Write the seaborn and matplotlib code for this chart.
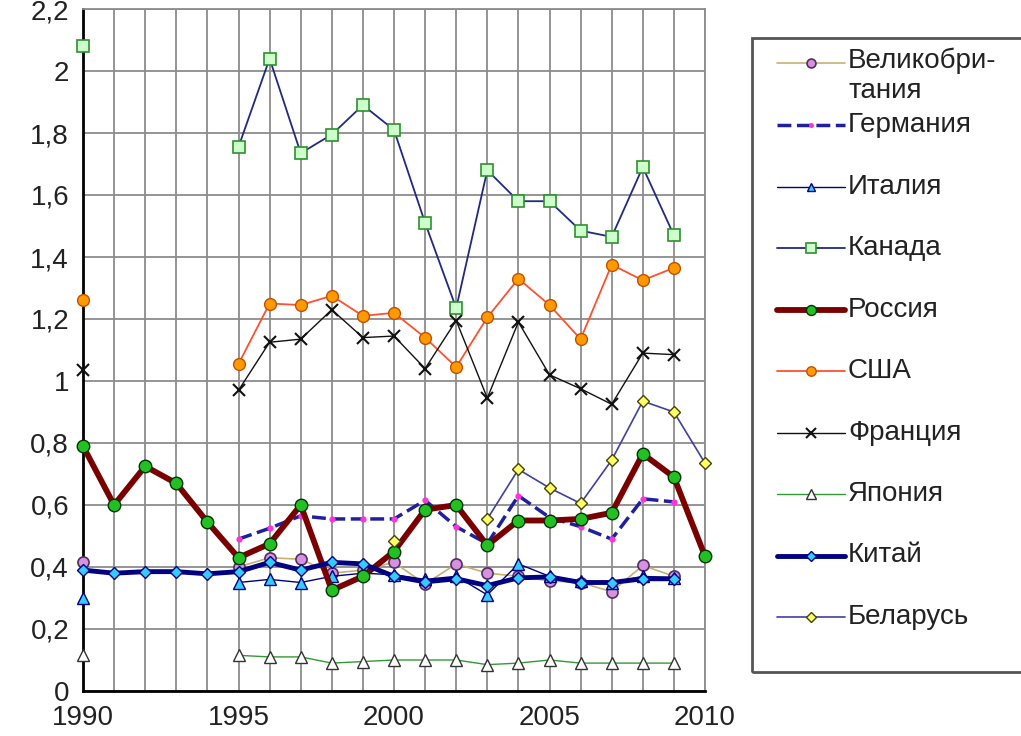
import numpy as np
import pandas as pd
import matplotlib.pyplot as plt
import seaborn as sns
from matplotlib.lines import Line2D
from matplotlib.patches import Rectangle

nan = np.nan
years = list(range(1990, 2011))

# values, nan = no point
uk = [0.415, nan, nan, nan, nan, 0.40, 0.43, 0.425, 0.38, 0.39, 0.415,
      0.345, 0.41, 0.38, 0.37, 0.355, 0.35, 0.32, 0.405, 0.37, nan]
germany = [nan, nan, nan, nan, nan, 0.49, 0.525, 0.565, 0.555, 0.555, 0.555,
           0.615, 0.53, 0.475, 0.63, 0.56, 0.53, 0.49, 0.62, 0.61, nan]
italy = [0.30, nan, nan, nan, nan, 0.35, 0.36, 0.35, 0.37, 0.38, 0.375,
         0.36, 0.37, 0.31, 0.41, 0.37, 0.355, 0.35, 0.37, 0.365, nan]
canada = [2.08, nan, nan, nan, nan, 1.755, 2.04, 1.735, 1.795, 1.89, 1.81,
          1.51, 1.235, 1.68, 1.58, 1.58, 1.485, 1.465, 1.69, 1.47, nan]
russia = [0.79, 0.60, 0.725, 0.67, 0.545, 0.43, 0.475, 0.60, 0.325, 0.37, 0.45,
          0.585, 0.60, 0.47, 0.55, 0.55, 0.555, 0.575, 0.765, 0.69, 0.435]
usa = [1.26, nan, nan, nan, nan, 1.055, 1.25, 1.245, 1.275, 1.21, 1.22,
       1.14, 1.045, 1.205, 1.33, 1.245, 1.135, 1.375, 1.325, 1.365, nan]
france = [1.035, nan, nan, nan, nan, 0.97, 1.125, 1.135, 1.23, 1.14, 1.145,
          1.04, 1.195, 0.945, 1.19, 1.02, 0.975, 0.925, 1.09, 1.085, nan]
japan = [0.115, nan, nan, nan, nan, 0.115, 0.11, 0.11, 0.09, 0.095, 0.10,
         0.10, 0.10, 0.085, 0.09, 0.10, 0.09, 0.09, 0.09, 0.09, nan]
china = [0.39, 0.38, 0.385, 0.385, 0.378, 0.385, 0.415, 0.39, 0.415, 0.41, 0.37,
         0.352, 0.362, 0.34, 0.365, 0.368, 0.35, 0.35, 0.362, 0.362, nan]
belarus = [nan, nan, nan, nan, nan, nan, nan, nan, nan, nan, 0.485,
           nan, nan, 0.555, 0.715, 0.655, 0.605, 0.745, 0.935, 0.90, 0.735]

countries = ['Великобри-\nтания', 'Германия', 'Италия', 'Канада', 'Россия',
             'США', 'Франция', 'Япония', 'Китай', 'Беларусь']
series = [uk, germany, italy, canada, russia, usa, france, japan, china, belarus]

styles = [
    dict(color='#c8b070', lw=1.2, ls='-', marker='o', ms=8, mfc='#d890e0', mec='#503060', mew=1.2),
    dict(color='#1f1fa0', lw=2.5, ls=(0, (4, 1.6)), marker='o', ms=4.5, mfc='#ff33dd', mec='#ff33dd', mew=0),
    dict(color='#000080', lw=1.0, ls='-', marker='^', ms=8, mfc='#33ccff', mec='#000080', mew=1.0),
    dict(color='#1f2a80', lw=1.3, ls='-', marker='s', ms=9, mfc='#ccffcc', mec='#2f8f2f', mew=1.2),
    dict(color='#7a0000', lw=4.2, ls='-', marker='o', ms=9, mfc='#22c022', mec='#003300', mew=1.0),
    dict(color='#ff5030', lw=1.3, ls='-', marker='o', ms=8.5, mfc='#ff9900', mec='#c05000', mew=1.0),
    dict(color='#111111', lw=1.0, ls='-', marker='x', ms=9, mfc='none', mec='#111111', mew=1.5),
    dict(color='#339933', lw=1.0, ls='-', marker='^', ms=8.5, mfc='white', mec='#333333', mew=1.0),
    dict(color='#000080', lw=3.5, ls='-', marker='D', ms=6.5, mfc='#33ccff', mec='#000080', mew=1.0),
    dict(color='#4040a0', lw=1.2, ls='-', marker='D', ms=6.5, mfc='#ffff66', mec='#444400', mew=1.0),
]

sns.set_style('white')
plt.rcParams['font.family'] = ['Liberation Sans', 'DejaVu Sans']

W, H = 1021, 736
fig = plt.figure(figsize=(W / 100, H / 100), dpi=100)
ax = fig.add_axes([83 / W, 45 / H, 622 / W, 682 / H])

for i, (vals, st) in enumerate(zip(series, styles)):
    df = pd.DataFrame({'year': years, 'val': vals})
    df['seg'] = df['val'].isna().cumsum()   # break the line at gaps
    df = df.dropna()
    sns.lineplot(data=df, x='year', y='val', units='seg', estimator=None, ax=ax,
                 color=st['color'], linewidth=st['lw'], linestyle=st['ls'],
                 marker=st['marker'], markersize=st['ms'],
                 markerfacecolor=st['mfc'], markeredgecolor=st['mec'],
                 markeredgewidth=st['mew'], zorder=3 + i, clip_on=False,
                 legend=False)

ax.set_xlim(1990, 2010)
ax.set_ylim(0, 2.2)
ax.set_xticks(years)
ax.set_xticklabels([str(y) if y % 5 == 0 else '' for y in years])
yt = np.arange(0, 2.21, 0.2)
ax.set_yticks(yt)
ax.set_yticklabels([('%.1f' % v).rstrip('0').rstrip('.').replace('.', ',') for v in yt])
ax.set_xlabel('')
ax.set_ylabel('')
ax.set_axisbelow(True)
ax.grid(True, color='#8c8c8c', lw=1.3)
ax.tick_params(axis='both', direction='out', length=7, width=1.5, color='black',
               labelsize=20, labelcolor='#222222', pad=3)
for s in ['left', 'bottom']:
    ax.spines[s].set_color('black')
    ax.spines[s].set_linewidth(2)
for s in ['top', 'right']:
    ax.spines[s].set_color('#8c8c8c')
    ax.spines[s].set_linewidth(1.3)

# legend box drawn by hand to keep Excel-like row spacing
fig.add_artist(Rectangle((752 / W, 1 - 672 / H), 300 / W, 634 / H, transform=fig.transFigure,
                         fill=False, ec='#555555', lw=2))
leg_y = [63] + [125 + 61.5 * k for k in range(9)]
for name, st, yy in zip(countries, styles, leg_y):
    fy = 1 - yy / H
    fig.add_artist(Line2D([777 / W, 845 / W], [fy, fy], color=st['color'], lw=st['lw'],
                          ls=st['ls'], transform=fig.transFigure))
    fig.add_artist(Line2D([811 / W], [fy], marker=st['marker'], ms=st['ms'] * 0.8, mfc=st['mfc'],
                          mec=st['mec'], mew=st['mew'], ls='none', transform=fig.transFigure))
    if '\n' in name:
        fig.text(848 / W, 1 - (yy - 15) / H, name, va='top', ha='left', fontsize=20,
                 color='#222222', linespacing=1.2)
    else:
        fig.text(848 / W, fy, name, va='center', ha='left', fontsize=20, color='#222222')

fig.savefig('out.png', dpi=100)
